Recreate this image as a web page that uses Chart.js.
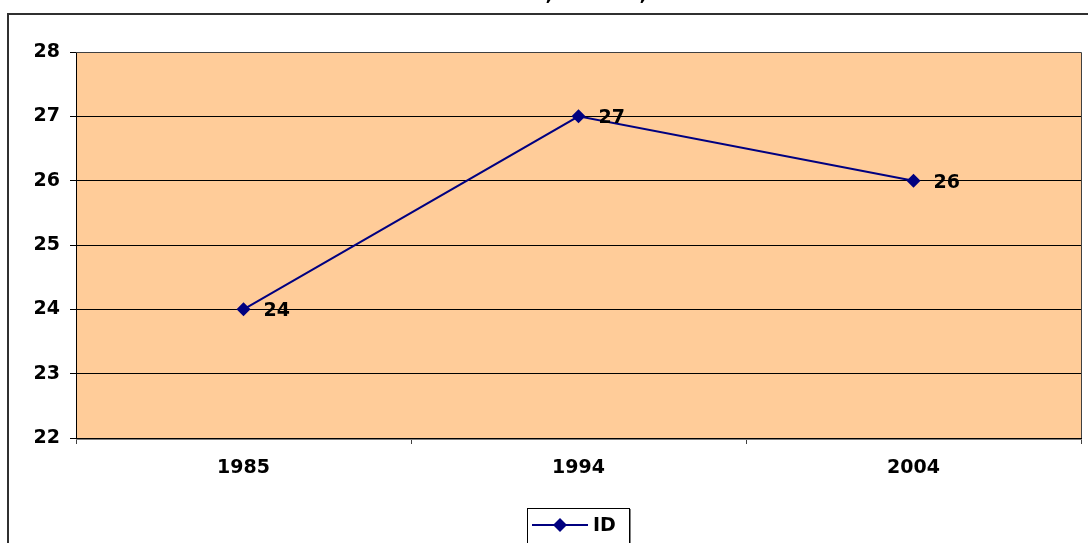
<!DOCTYPE html>
<html>
<head>
<meta charset="utf-8">
<script src="https://cdn.jsdelivr.net/npm/chart.js@4/dist/chart.umd.min.js"></script>
<style>
  html, body { margin: 0; padding: 0; background: #fff; }
  #wrap { width: 1088px; height: 543px; position: relative; }
</style>
</head>
<body>
<div id="wrap"><canvas id="graf"></canvas></div>
<script>
// donnees
var annees = ['1985', '1994', '2004'];
var valeurs_ID = [24, 27, 26];
var serie_nom = 'ID';
var y_min = 22, y_max = 28, y_pas = 1;

var FONT = '"DejaVu Sans", Verdana, sans-serif';
var NAVY = '#000080';
var FOND = '#FFCC99';
var TAILLE = 19;

Chart.defaults.font.family = FONT;
Chart.defaults.font.weight = 'bold';
Chart.defaults.font.size = TAILLE;
Chart.defaults.color = '#000';

// fond orange de la zone + cadre exterieur + etiquettes + legende
var cadre_plugin = {
    id: 'cadre',
    beforeDraw: function(chart) {
        var ctx = chart.ctx, a = chart.chartArea;
        ctx.save();
        ctx.fillStyle = FOND;
        ctx.fillRect(a.left, a.top, a.right - a.left, a.bottom - a.top);
        ctx.restore();
    },
    afterDatasetsDraw: function(chart) {
        var ctx = chart.ctx, a = chart.chartArea;
        ctx.save();
        // cadre zone graphique
        ctx.strokeStyle = '#404040';
        ctx.lineWidth = 1;
        ctx.beginPath();
        ctx.moveTo(a.left, a.top + 0.5);
        ctx.lineTo(a.right + 0.5, a.top + 0.5);
        ctx.lineTo(a.right + 0.5, a.bottom);
        ctx.stroke();
        // ombre sous l'axe x
        ctx.strokeStyle = '#808080';
        ctx.beginPath();
        ctx.moveTo(a.left, a.bottom + 1.5);
        ctx.lineTo(a.right + 1, a.bottom + 1.5);
        ctx.stroke();

        // etiquettes des valeurs
        var meta = chart.getDatasetMeta(0);
        var data = chart.data.datasets[0].data;
        ctx.fillStyle = '#000';
        ctx.font = 'bold ' + TAILLE + 'px ' + FONT;
        ctx.textAlign = 'left';
        ctx.textBaseline = 'middle';
        meta.data.forEach(function(pt, i) {
            ctx.fillText(String(data[i]), pt.x + 20, pt.y + 2);
        });

        // bordure exterieure du graphique
        ctx.strokeStyle = '#303030';
        ctx.lineWidth = 2;
        ctx.beginPath();
        ctx.moveTo(8, 560);
        ctx.lineTo(8, 14);
        ctx.lineTo(1100, 14);
        ctx.stroke();

        // titre (coupe en haut)
        ctx.textBaseline = 'alphabetic';
        ctx.textAlign = 'center';
        ctx.fillText(',', 549, 0);
        ctx.fillText(',', 643, 0);

        // legende
        var ds = chart.data.datasets[0];
        ctx.fillStyle = '#fff';
        ctx.fillRect(527, 508, 102, 40);
        ctx.strokeStyle = '#000';
        ctx.lineWidth = 1;
        ctx.strokeRect(527.5, 508.5, 102, 40);
        ctx.strokeStyle = '#808080';
        ctx.beginPath();
        ctx.moveTo(630.5, 509);
        ctx.lineTo(630.5, 545);
        ctx.stroke();
        ctx.strokeStyle = ds.borderColor;
        ctx.lineWidth = 2;
        ctx.beginPath();
        ctx.moveTo(532, 525);
        ctx.lineTo(588, 525);
        ctx.stroke();
        ctx.fillStyle = ds.pointBackgroundColor;
        ctx.beginPath();
        ctx.moveTo(560, 518);
        ctx.lineTo(567, 525);
        ctx.lineTo(560, 532);
        ctx.lineTo(553, 525);
        ctx.closePath();
        ctx.fill();
        ctx.fillStyle = '#000';
        ctx.textAlign = 'left';
        ctx.textBaseline = 'middle';
        ctx.fillText(ds.label, 593, 526);
        ctx.restore();
    }
};

var GRAPHIQUE = new Chart(document.getElementById('graf'), {
    type: 'line',
    data: {
        labels: annees,
        datasets: [{
            label: serie_nom,
            data: valeurs_ID,
            borderColor: NAVY,
            borderWidth: 2,
            pointStyle: 'rectRot',
            pointRadius: 7,
            pointBackgroundColor: NAVY,
            pointBorderColor: NAVY,
            pointBorderWidth: 0,
            tension: 0
        }]
    },
    options: {
        responsive: true,
        maintainAspectRatio: false,
        animation: false,
        layout: { padding: { top: 52, right: 6, left: 0, bottom: 0 } },
        plugins: {
            legend: { display: false },
            tooltip: { enabled: false }
        },
        scales: {
            x: {
                offset: true,
                grid: {
                    offset: true,
                    drawOnChartArea: false,
                    drawTicks: true,
                    tickLength: 6,
                    color: '#404040',
                    lineWidth: 1
                },
                border: { color: '#000', width: 1 },
                ticks: { padding: 13, color: '#000' },
                afterFit: function(s) { s.height = 105; }
            },
            y: {
                min: y_min,
                max: y_max,
                grid: {
                    color: '#000',
                    lineWidth: 1,
                    drawTicks: true,
                    tickLength: 6
                },
                border: { color: '#000', width: 1 },
                ticks: {
                    stepSize: y_pas,
                    padding: 10,
                    color: '#000'
                },
                afterFit: function(s) { s.width = 76; }
            }
        }
    },
    plugins: [cadre_plugin]
});
</script>
</body>
</html>
